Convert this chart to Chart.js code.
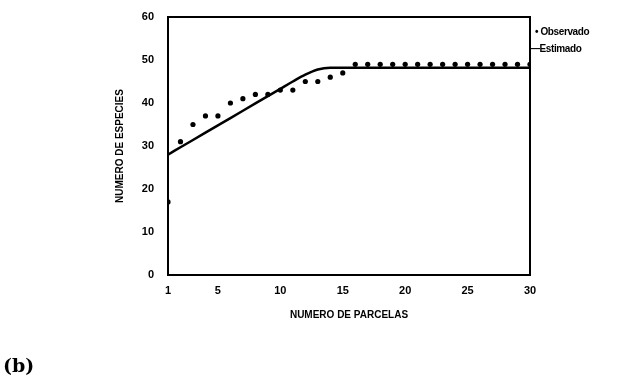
<!DOCTYPE html>
<html>
<head>
<meta charset="utf-8">
<script src="https://cdn.jsdelivr.net/npm/chart.js@4"></script>
<style>
  html, body { margin: 0; padding: 0; background: #fff; }
  #wrap { position: relative; width: 625px; height: 386px; }
  .leg { position: absolute; font: bold 10px "Liberation Sans Narrow", "Liberation Sans", Arial, sans-serif; color: #000; letter-spacing: -0.4px; }
  #lab { position: absolute; left: 3px; top: 354px; font: bold 19px "DejaVu Serif", serif; color: #000; }
</style>
</head>
<body>
<div id="wrap">
  <canvas id="myChart" width="625" height="386"></canvas>
  <div class="leg" style="left:535px; top:26px;">&bull; Observado</div>
  <div class="leg" style="left:530px; top:43px;">&mdash;Estimado</div>
  <div id="lab">(b)</div>
</div>
<script>
var parcelas = [1,2,3,4,5,6,7,8,9,10,11,12,13,14,15,16,17,18,19,20,21,22,23,24,25,26,27,28,29,30];
var observado = [17,31,35,37,37,40,41,42,42,43,43,45,45,46,47,49,49,49,49,49,49,49,49,49,49,49,49,49,49,49];
var estimado = [28,29.7,31.4,33.1,34.8,36.5,38.2,39.9,41.6,43.3,45,46.6,47.8,48.2,48.2,48.2,48.2,48.2,48.2,48.2,48.2,48.2,48.2,48.2,48.2,48.2,48.2,48.2,48.2,48.2];
var xTicks = [1,5,10,15,20,25,30];

var tickFont = { family: 'Liberation Sans', weight: 'bold', size: 11 };
var titleFont = { family: 'Liberation Sans Narrow, Liberation Sans', weight: 'bold', size: 10 };

var boxPlugin = {
    id: 'box',
    afterDraw: function (chart) {
        var a = chart.chartArea, c = chart.ctx;
        c.save();
        c.strokeStyle = '#000';
        c.lineWidth = 2;
        c.strokeRect(a.left, a.top, a.right - a.left, a.bottom - a.top);
        c.restore();
    }
};

var ctx = document.getElementById('myChart').getContext('2d');
var myChart = new Chart(ctx, {
    type: 'line',
    data: {
        datasets: [
            {
                label: 'Observado',
                data: parcelas.map(function (p, i) { return { x: p, y: observado[i] }; }),
                showLine: false,
                pointRadius: 2.6,
                pointBackgroundColor: '#000',
                pointBorderWidth: 0,
            },
            {
                label: 'Estimado',
                data: parcelas.map(function (p, i) { return { x: p, y: estimado[i] }; }),
                borderColor: '#000',
                borderWidth: 2.5,
                pointRadius: 0,
                cubicInterpolationMode: 'monotone',
            },
        ],
    },
    options: {
        responsive: false,
        animation: false,
        layout: { padding: { left: 110, top: 17, right: 95, bottom: 61 } },
        plugins: { legend: { display: false }, tooltip: { enabled: false } },
        scales: {
            x: {
                type: 'linear',
                min: 1, max: 30,
                afterBuildTicks: function (s) { s.ticks = xTicks.map(function (v) { return { value: v }; }); },
                afterFit: function (s) { s.height = 50; },
                grid: { display: false },
                border: { display: false },
                ticks: { color: '#000', font: tickFont, maxRotation: 0, padding: 1 },
                title: { display: true, text: 'NUMERO DE PARCELAS', color: '#000', font: titleFont, padding: { top: 8 } },
            },
            y: {
                min: 0, max: 60,
                afterFit: function (s) { s.width = 58; },
                grid: { display: false },
                border: { display: false },
                ticks: { stepSize: 10, color: '#000', font: tickFont, padding: 6 },
                title: { display: true, text: 'NUMERO DE ESPECIES', color: '#000', font: titleFont },
            },
        },
    },
    plugins: [boxPlugin],
});
</script>
</body>
</html>
